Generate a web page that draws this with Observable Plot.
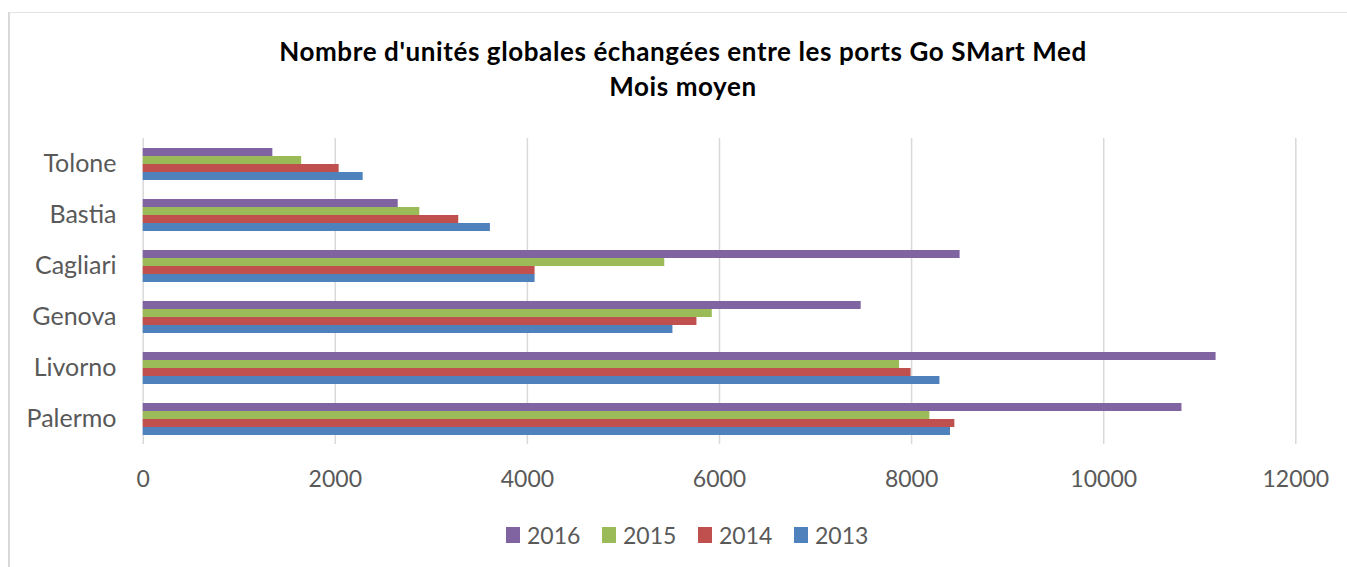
<!DOCTYPE html>
<html>
<head>
<meta charset="utf-8">
<script src="https://cdn.jsdelivr.net/npm/d3@7"></script>
<script src="https://cdn.jsdelivr.net/npm/@observablehq/plot@0.6"></script>
<style>
  html, body { margin: 0; padding: 0; background: #fff; width: 1347px; height: 567px; overflow: hidden; }
  #frame { position: absolute; left: 8px; top: 12px; right: -10px; bottom: -10px;
           border-left: 2px solid #d9d9d9; border-top: 1px solid #e3e3e3; }
  #title { position: absolute; left: 0; width: 1366px; top: 34px; text-align: center;
           font-family: Lato, "Open Sans", sans-serif; font-weight: bold; font-size: 26px;
           letter-spacing: 0.6px; line-height: 35px; color: #000; }
  #chart { position: absolute; left: 0; top: 120px; }
  #legend { position: absolute; left: 506px; top: 522px; display: flex;
            font-family: Lato, sans-serif; font-size: 23px; color: #595959; }
  .item { width: 96px; display: flex; align-items: center; height: 26px; }
  .sw { width: 14px; height: 16px; margin-right: 7px; }
</style>
</head>
<body>
<div id="frame"></div>
<div id="title">Nombre d'unités globales échangées entre les ports Go SMart Med<br>Mois moyen</div>
<div id="chart"></div>
<div id="legend"></div>
<script>
const ports = ["Tolone", "Bastia", "Cagliari", "Genova", "Livorno", "Palermo"];
const years = ["2016", "2015", "2014", "2013"];
const colors = ["#8064A2", "#9BBB59", "#C0504D", "#4F81BD"];
const v2016 = [1350, 2655, 8505, 7475, 11170, 10815];
const v2015 = [1650, 2880, 5430, 5925, 7875, 8190];
const v2014 = [2040, 3285, 4080, 5765, 7995, 8450];
const v2013 = [2290, 3615, 4080, 5515, 8295, 8405];
const xTicks = [0, 2000, 4000, 6000, 8000, 10000, 12000];

const series = {"2016": v2016, "2015": v2015, "2014": v2014, "2013": v2013};
const data = [];
years.forEach(y => ports.forEach((p, i) => data.push({port: p, year: y, value: series[y][i]})));

const chart = Plot.plot({
  width: 1347,
  height: 390,
  marginLeft: 142.7,
  marginRight: 51.7,
  marginTop: 17,
  marginBottom: 66,
  style: {fontFamily: "Lato, sans-serif", fontSize: "23px", color: "#595959", background: "transparent"},
  x: {domain: [0, 12000], ticks: xTicks, tickFormat: d => String(d), tickSize: 0, tickPadding: 26, label: null},
  fy: {domain: ports, padding: 0, axis: "left", tickSize: 0, tickPadding: 26.7, label: null},
  y: {domain: years, paddingInner: 0, paddingOuter: 0.89, axis: null},
  color: {domain: years, range: colors},
  marks: [
    Plot.ruleX(xTicks, {stroke: "#d9d9d9", strokeWidth: 1.5}),
    Plot.barX(data, {x: "value", y: "year", fy: "port", fill: "year"})
  ]
});
d3.select(chart).selectAll('[aria-label^="fy-axis"]').style("font-size", "25px");
document.getElementById("chart").appendChild(chart);

const legend = document.getElementById("legend");
years.forEach((y, i) => {
  const it = document.createElement("div");
  it.className = "item";
  const sw = document.createElement("div");
  sw.className = "sw";
  sw.style.background = colors[i];
  const t = document.createElement("span");
  t.textContent = y;
  it.appendChild(sw); it.appendChild(t);
  legend.appendChild(it);
});
</script>
</body>
</html>
